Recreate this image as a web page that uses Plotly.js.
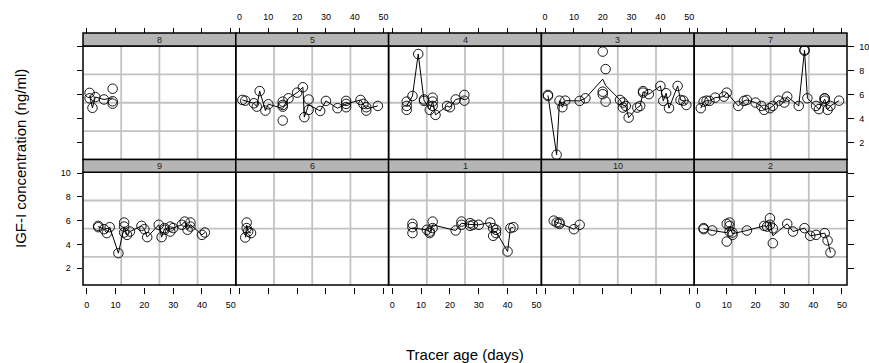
<!DOCTYPE html>
<html>
<head>
<meta charset="utf-8">
<script src="https://cdn.plot.ly/plotly-3.0.1.min.js"></script>
<style>html,body{margin:0;padding:0;background:#fff;}#chart{width:869px;height:363px;}</style>
</head>
<body>
<div id="chart"></div>
<script>
// ---- Data: tracer age (days) and IGF-I concentration (ng/ml) per lot ----
const lot8_age  = [1, 1, 2, 3, 6, 9, 9, 9];
const lot8_conc = [6.15, 5.7, 4.9, 5.8, 5.6, 6.5, 5.45, 5.25];

const lot5_age  = [1, 2, 5, 6, 7, 9, 10, 15, 15, 15, 15, 17, 20, 22, 22.5, 24, 24, 28, 30, 34, 37, 37, 37, 42, 43, 44, 44, 48];
const lot5_conc = [5.56, 5.5, 5.28, 5.0, 6.3, 4.67, 5.2, 5.42, 5.14, 5.0, 3.84, 5.7, 6.17, 6.62, 4.12, 5.6, 4.73, 4.64, 5.48, 4.87, 5.48, 5.23, 4.95, 5.56, 5.23, 4.95, 4.67, 5.06];

const lot4_age  = [5, 5, 5, 7, 9, 11, 11, 13, 14, 14, 14, 15, 19, 20, 22, 25, 25];
const lot4_conc = [5.42, 5.06, 4.73, 5.89, 9.4, 5.6, 5.48, 4.73, 5.75, 5.42, 5.06, 4.31, 5.06, 4.95, 5.6, 5.98, 5.5];

const lot3_age  = [1, 1, 4, 5, 6, 7, 12, 14, 20, 20, 20, 21, 21, 26, 27, 27, 28, 29, 32, 33, 34, 34, 36, 40, 41, 42, 43, 46, 47, 48, 49];
const lot3_conc = [5.98, 5.89, 0.98, 5.5, 4.95, 5.5, 5.48, 5.7, 9.6, 6.25, 6.04, 8.14, 5.42, 5.56, 5.34, 4.92, 5.06, 4.08, 4.92, 5.06, 6.3, 6.17, 6.04, 6.73, 5.48, 6.12, 4.87, 6.73, 5.56, 5.5, 5.14];

const lot7_age  = [1, 2, 3, 4, 6, 9, 10, 14, 16, 17, 20, 22, 23, 25, 26, 28, 30, 31, 35, 37, 37, 38, 41, 42, 44, 44, 44, 45, 46, 49];
const lot7_conc = [4.87, 5.42, 5.5, 5.48, 5.75, 5.84, 6.17, 5.06, 5.48, 5.56, 5.34, 5.06, 4.73, 4.87, 5.06, 5.5, 5.34, 5.84, 5.06, 9.67, 9.75, 5.7, 5.06, 4.79, 5.7, 5.68, 5.5, 4.73, 5.06, 5.5];

const lot9_age  = [4, 4, 6, 7, 8, 11, 13, 13, 13, 14, 15, 19, 20, 21, 25, 26, 27, 27, 29, 29, 30, 33, 34, 35, 36, 36, 40, 41];
const lot9_conc = [5.56, 5.45, 5.28, 4.95, 5.45, 3.26, 5.84, 5.5, 5.0, 4.8, 5.08, 5.56, 5.28, 4.61, 5.65, 4.61, 5.23, 5.37, 5.5, 5.08, 5.37, 5.65, 5.92, 5.23, 5.84, 5.5, 4.8, 5.0];

const lot6_age  = [2, 2.5, 2.5, 3, 4];
const lot6_conc = [4.58, 5.84, 5.37, 5.08, 4.95];

const lot1_age  = [7, 7, 7, 12, 13, 13, 14, 14, 22, 24, 24, 27, 27, 28, 30, 34, 35, 35, 36, 36, 40, 41, 42];
const lot1_conc = [5.73, 5.45, 4.95, 5.23, 5.08, 4.95, 5.37, 5.92, 5.17, 5.92, 5.65, 5.56, 5.79, 5.65, 5.65, 5.84, 5.37, 4.72, 5.23, 4.95, 3.4, 5.37, 5.45];

const lot10_age  = [3, 4, 5, 5, 10, 12];
const lot10_conc = [6.0, 5.84, 5.73, 5.84, 5.28, 5.65];

const lot2_age  = [2, 2, 5, 10, 10, 11, 11, 11, 12, 12, 17, 23, 24, 25, 25, 26, 26, 31, 33, 37, 39, 41, 44, 45, 46];
const lot2_conc = [5.37, 5.28, 5.17, 5.73, 4.24, 5.84, 5.56, 5.08, 5.0, 4.8, 5.17, 5.56, 5.5, 6.2, 5.65, 4.1, 5.35, 5.73, 5.08, 5.37, 4.72, 4.8, 4.95, 4.33, 3.31];

const panelLabels = ['8', '5', '4', '3', '7', '9', '6', '1', '10', '2'];
const xTicks = [0, 10, 20, 30, 40, 50];
const yTicks = [2, 4, 6, 8, 10];

const lots = {
  '8': [lot8_age, lot8_conc], '5': [lot5_age, lot5_conc], '4': [lot4_age, lot4_conc],
  '3': [lot3_age, lot3_conc], '7': [lot7_age, lot7_conc], '9': [lot9_age, lot9_conc],
  '6': [lot6_age, lot6_conc], '1': [lot1_age, lot1_conc], '10': [lot10_age, lot10_conc],
  '2': [lot2_age, lot2_conc]
};

// ---- Layout geometry ----
const W = 869, H = 363;
const colL = [83, 235.8, 388.6, 541.4, 694.2];
const colW = 152.8;
const rows = [
  {stripTop: 33, top: 46, bot: 159.5},
  {stripTop: 159.5, top: 172.3, bot: 285}
];
const FONT = 'Liberation Sans, Arial, Helvetica, sans-serif';
const fx = p => p / W;
const fy = p => 1 - p / H;

function averageLine(xs, ys) {
  const groups = new Map();
  xs.forEach((x, i) => {
    if (!groups.has(x)) groups.set(x, []);
    groups.get(x).push(ys[i]);
  });
  const keys = Array.from(groups.keys()).sort((a, b) => a - b);
  return [keys, keys.map(k => groups.get(k).reduce((s, v) => s + v, 0) / groups.get(k).length)];
}

const traces = [];
const layout = {
  width: W, height: H,
  margin: {l: 0, r: 0, t: 0, b: 0},
  paper_bgcolor: '#fff', plot_bgcolor: 'rgba(0,0,0,0)',
  showlegend: false,
  font: {family: FONT, color: '#000'},
  shapes: [], annotations: []
};

panelLabels.forEach((lab, i) => {
  const r = i < 5 ? 0 : 1, c = i % 5, n = i + 1;
  const xs = n === 1 ? '' : String(n);
  const R = rows[r];
  const L = colL[c], Rt = colL[c] + colW;
  const [ages, conc] = lots[lab];
  const [mx, my] = averageLine(ages, conc);

  traces.push({
    x: mx, y: my, xaxis: 'x' + xs, yaxis: 'y' + xs, type: 'scatter', mode: 'lines',
    line: {color: '#000', width: 1}, hoverinfo: 'skip'
  });
  traces.push({
    x: ages, y: conc, xaxis: 'x' + xs, yaxis: 'y' + xs, type: 'scatter', mode: 'markers',
    marker: {symbol: 'circle-open', size: 9.5, color: '#000', line: {color: '#000', width: 0.9}}
  });

  const xa = {
    domain: [fx(L), fx(Rt)], range: [-1.28, 51.74], showgrid: false, zeroline: false, showline: false,
    tickvals: xTicks, ticktext: xTicks.map(String), ticks: 'outside', ticklen: 5.5, tickwidth: 1, tickcolor: '#000',
    tickfont: {family: FONT, size: 9, color: '#000'}, fixedrange: true, ticklabelstandoff: 4
  };
  if (r === 0) {
    xa.side = 'top'; xa.anchor = 'free'; xa.position = fy(R.stripTop);
    xa.showticklabels = (c === 1 || c === 3);
  } else {
    xa.side = 'bottom'; xa.anchor = 'free'; xa.position = fy(R.bot + 2);
    xa.showticklabels = (c % 2 === 0);
  }
  const ya = {
    domain: [fy(R.bot), fy(R.top)], range: [0.58, 10.07], anchor: 'x' + xs,
    showgrid: false, zeroline: false, showline: false,
    tickvals: yTicks, ticktext: yTicks.map(String), tickfont: {family: FONT, size: 9, color: '#000'},
    ticklen: 5.5, tickwidth: 1, tickcolor: '#000', fixedrange: true, ticklabelstandoff: 4
  };
  if (c === 0) {
    ya.side = 'left'; ya.ticks = 'outside'; ya.showticklabels = (r === 1);
  } else if (c === 4) {
    ya.side = 'right'; ya.ticks = 'outside'; ya.showticklabels = (r === 0);
  } else {
    ya.ticks = ''; ya.showticklabels = false;
  }
  layout['xaxis' + xs] = xa;
  layout['yaxis' + xs] = ya;

  // grid lines at quarter positions
  [0.25, 0.5, 0.75].forEach(f => {
    layout.shapes.push({type: 'line', layer: 'below', xref: 'x' + xs + ' domain', yref: 'y' + xs + ' domain',
      x0: f, x1: f, y0: 0, y1: 1, line: {color: '#c2c2c2', width: 1.8}});
    layout.shapes.push({type: 'line', layer: 'below', xref: 'x' + xs + ' domain', yref: 'y' + xs + ' domain',
      x0: 0, x1: 1, y0: f, y1: f, line: {color: '#c2c2c2', width: 1.8}});
  });
  // panel border
  layout.shapes.push({type: 'rect', layer: 'above', xref: 'paper', yref: 'paper',
    x0: fx(L), x1: fx(Rt), y0: fy(R.bot), y1: fy(R.top), line: {color: '#000', width: 1.5}, fillcolor: 'rgba(0,0,0,0)'});
  // strip
  layout.shapes.push({type: 'rect', layer: 'above', xref: 'paper', yref: 'paper',
    x0: fx(L), x1: fx(Rt), y0: fy(R.top), y1: fy(R.stripTop), line: {color: '#000', width: 1.5}, fillcolor: '#b5b5b5'});
  layout.annotations.push({xref: 'paper', yref: 'paper', x: fx(L + colW / 2), y: fy((R.top + R.stripTop) / 2),
    text: lab, showarrow: false, xanchor: 'center', yanchor: 'middle',
    font: {family: FONT, size: 9, color: '#222'}});
});

layout.annotations.push({xref: 'paper', yref: 'paper', x: fx(20), y: fy(159), text: 'IGF-I concentration (ng/ml)',
  textangle: -90, showarrow: false, xanchor: 'center', yanchor: 'middle', font: {family: FONT, size: 15, color: '#000'}});
layout.annotations.push({xref: 'paper', yref: 'paper', x: fx(465), y: fy(354), text: 'Tracer age (days)',
  showarrow: false, xanchor: 'center', yanchor: 'middle', font: {family: FONT, size: 15, color: '#000'}});

Plotly.newPlot('chart', traces, layout, {staticPlot: true, displayModeBar: false});
</script>
</body>
</html>
